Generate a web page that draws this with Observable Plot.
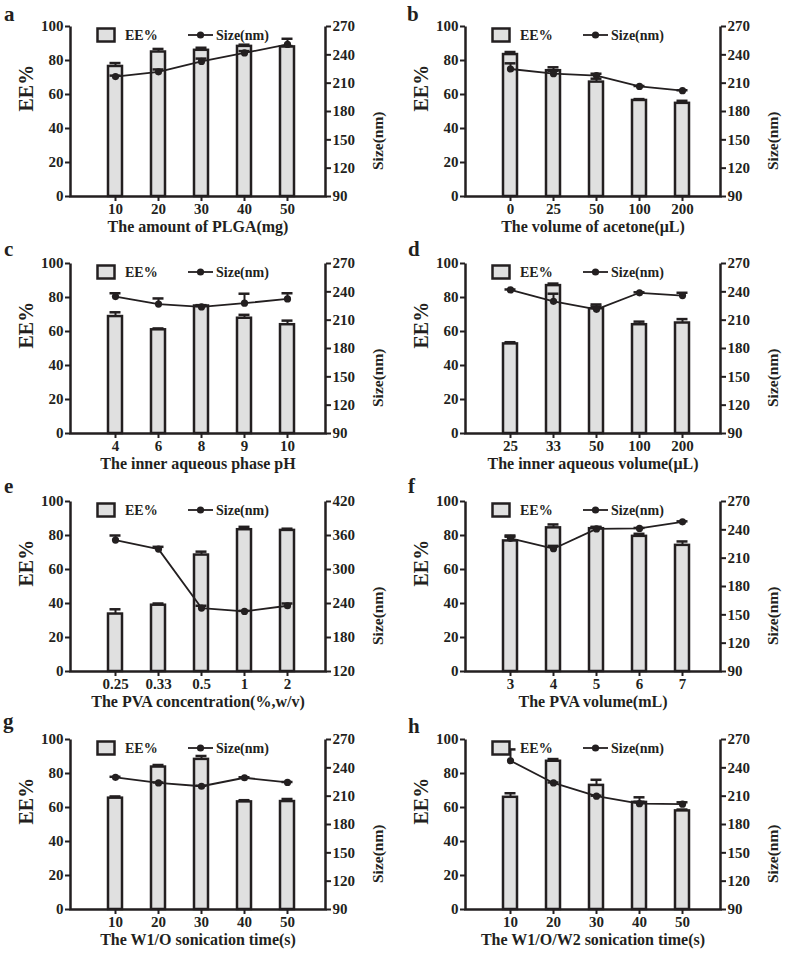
<!DOCTYPE html>
<html><head><meta charset="utf-8">
<script src="https://cdn.jsdelivr.net/npm/d3@7"></script>
<script src="https://cdn.jsdelivr.net/npm/@observablehq/plot@0.6"></script>
<style>
body{margin:0;background:#fff;}
#fig{position:relative;width:789px;height:955px;overflow:hidden;font-family:"Liberation Serif","Times New Roman",serif;font-weight:bold;color:#231f20;}
.panel{position:absolute;}
.letter{position:absolute;font-size:21px;line-height:24px;font-weight:bold;}
.legend{position:absolute;overflow:visible;}
</style></head><body><div id="fig"></div>
<script>
// ---- tick labels ----
const eeTicks = [0, 20, 40, 60, 80, 100];
const sizeTicks = [90, 120, 150, 180, 210, 240, 270];
const sizeTicksE = [120, 180, 240, 300, 360, 420];

// ---- panel a ----
const catsA = ["10", "20", "30", "40", "50"];
const eeA = [76.5, 85, 86, 88.3, 88];
const eeErrA = [2, 1.8, 1.5, 1, 0.5];
const sizeA = [217, 222, 233, 242, 251];
const sizeErrA = [1, 2.5, 3, 2, 6];
// ---- panel b ----
const catsB = ["0", "25", "50", "100", "200"];
const eeB = [83.5, 74, 67.3, 56.5, 54.8];
const eeErrB = [1.5, 2, 2, 0.8, 1.5];
const sizeB = [225, 220, 218, 206.5, 202];
const sizeErrB = [6, 3, 2, 0.5, 0.5];
// ---- panel c ----
const catsC = ["4", "6", "8", "9", "10"];
const eeC = [68.8, 61, 75, 67.8, 64];
const eeErrC = [2.5, 0.8, 0.5, 2, 2.4];
const sizeC = [235, 227, 224, 228, 232.5];
const sizeErrC = [3.5, 6, 1, 10, 6];
// ---- panel d ----
const catsD = ["25", "33", "50", "100", "200"];
const eeD = [52.7, 87, 73.4, 64, 65];
const eeErrD = [1, 1.2, 2.5, 1.8, 2.3];
const sizeD = [242, 230, 221.5, 239, 236];
const sizeErrD = [0.5, 8, 3, 0.5, 3];
// ---- panel e ----
const catsE = ["0.25", "0.33", "0.5", "1", "2"];
const eeE = [33.8, 39, 68.5, 83.4, 83];
const eeErrE = [2.8, 1, 2, 1.7, 1];
const sizeE = [352, 336, 232, 226, 236];
const sizeErrE = [8, 4, 4, 1, 4];
// ---- panel f ----
const catsF = ["3", "4", "5", "6", "7"];
const eeF = [76.8, 84.5, 84, 79.5, 74.2];
const eeErrF = [2.5, 2, 1, 1.5, 2.3];
const sizeF = [231, 220, 241, 241.5, 248.5];
const sizeErrF = [3, 3, 2, 0.5, 0.5];
// ---- panel g ----
const catsG = ["10", "20", "30", "40", "50"];
const eeG = [65.5, 83.8, 88.3, 63.3, 63.5];
const eeErrG = [1, 1.2, 2, 1, 1.5];
const sizeG = [230, 224, 220.5, 229.5, 224.5];
const sizeErrG = [0.5, 0.5, 0.5, 0.5, 0.5];
// ---- panel h ----
const catsH = ["10", "20", "30", "40", "50"];
const eeH = [66, 87.2, 73, 63, 58];
const eeErrH = [2.4, 1.3, 3.3, 3, 0.8];
const sizeH = [247.5, 224, 210, 202, 201.5];
const sizeErrH = [12, 0.5, 0.5, 2, 2];

const letters = ["a", "b", "c", "d", "e", "f", "g", "h"];
const xTitles = [
  "The amount of PLGA(mg)", "The volume of acetone(\u03bcL)",
  "The inner aqueous phase pH", "The inner aqueous volume(\u03bcL)",
  "The PVA concentration(%,w/v)", "The PVA volume(mL)",
  "The W1/O sonication time(s)", "The W1/O/W2 sonication time(s)"
];

const panels = [
  [catsA, eeA, eeErrA, sizeA, sizeErrA, sizeTicks],
  [catsB, eeB, eeErrB, sizeB, sizeErrB, sizeTicks],
  [catsC, eeC, eeErrC, sizeC, sizeErrC, sizeTicks],
  [catsD, eeD, eeErrD, sizeD, sizeErrD, sizeTicks],
  [catsE, eeE, eeErrE, sizeE, sizeErrE, sizeTicksE],
  [catsF, eeF, eeErrF, sizeF, sizeErrF, sizeTicks],
  [catsG, eeG, eeErrG, sizeG, sizeErrG, sizeTicks],
  [catsH, eeH, eeErrH, sizeH, sizeErrH, sizeTicks]
];

// layout
const ink = "#231f20";
const barFill = "#e0e0e0";
const W = 394, ML = 70, MR = 69, MT = 10, MB = 45, FH = 170;
const FW = W - ML - MR;
const H = MT + FH + MB;
const colLeft = [0, 395];
const frameTops = [26, 263, 501, 739];
const letterPos = [[4, 2], [407, 2], [4, 237], [408, 237], [4, 474], [408, 474], [3, 709], [408, 714]];

const fig = document.getElementById("fig");

panels.forEach(([cats, ee, eeErr, size, sizeErr, sTicks], i) => {
  const col = i % 2, row = Math.floor(i / 2);
  const smin = sTicks[0], smax = sTicks[sTicks.length - 1];
  const toEE = s => (s - smin) / (smax - smin) * 100;
  const data = cats.map((c, j) => ({
    cat: c, ee: ee[j], eeTop: ee[j] + eeErr[j],
    s: toEE(size[j]), sTop: toEE(size[j] + sizeErr[j])
  }));
  const chart = Plot.plot({
    width: W, height: H,
    marginLeft: ML, marginRight: MR, marginTop: MT, marginBottom: MB,
    style: {fontFamily: '"Liberation Serif","Times New Roman",serif', fontSize: "15px", fontWeight: "bold", color: ink, background: "transparent"},
    x: {type: "band", domain: cats, paddingInner: 0.674, paddingOuter: 0.3, insetLeft: 25, insetRight: 18, axis: null},
    y: {domain: [0, 100], axis: null},
    marks: [
      Plot.barY(data, {x: "cat", y: "ee", fill: barFill, stroke: ink, strokeWidth: 2.5}),
      Plot.ruleX(data, {x: "cat", y1: "ee", y2: "eeTop", stroke: ink, strokeWidth: 2}),
      Plot.tickY(data, {x: "cat", y: "eeTop", stroke: ink, strokeWidth: 2.5, inset: 1.5}),
      Plot.line(data, {x: "cat", y: "s", stroke: ink, strokeWidth: 1.8}),
      Plot.ruleX(data, {x: "cat", y1: "s", y2: "sTop", stroke: ink, strokeWidth: 2}),
      Plot.tickY(data, {x: "cat", y: "sTop", stroke: ink, strokeWidth: 2.5, inset: 1.5}),
      Plot.dot(data, {x: "cat", y: "s", r: 3.6, fill: ink, stroke: "none"}),
      Plot.frame({stroke: ink, strokeWidth: 2.5, strokeDasharray: `0,${FW},${FW + 2 * FH}`}),
      Plot.axisX({tickSize: 5, tickPadding: 2, strokeWidth: 2, fontSize: 15, label: null}),
      Plot.axisY(eeTicks, {anchor: "left", tickSize: 5, tickPadding: 2, strokeWidth: 2, fontSize: 15, label: null}),
      Plot.axisY(sTicks.map(toEE), {anchor: "right", tickSize: 5, tickPadding: 2, strokeWidth: 2, fontSize: 15, label: null,
        tickFormat: d => Math.round(smin + d * (smax - smin) / 100)}),
      Plot.text(["EE%"], {frameAnchor: "left", dx: -44, rotate: -90, fontSize: 20, fontWeight: "bold", fill: ink}),
      Plot.text(["Size(nm)"], {frameAnchor: "right", dx: 53, rotate: -90, fontSize: 15.5, fontWeight: "bold", fill: ink}),
      Plot.text([xTitles[i]], {frameAnchor: "bottom", dy: 35, fontSize: 16, fontWeight: "bold", fill: ink})
    ]
  });
  const div = document.createElement("div");
  div.className = "panel";
  div.style.left = colLeft[col] + "px";
  div.style.top = (frameTops[row] - MT) + "px";
  div.appendChild(chart);
  fig.appendChild(div);

  // legend (inside the plot area, top-left)
  const fx = colLeft[col] + ML, fy = frameTops[row];
  const lg = d3.select(fig).append("svg").attr("class", "legend")
    .attr("width", 210).attr("height", 20)
    .style("left", (fx + 26) + "px").style("top", (fy + 1) + "px");
  lg.append("rect").attr("x", 1.5).attr("y", 1.5).attr("width", 17).attr("height", 13)
    .attr("fill", barFill).attr("stroke", ink).attr("stroke-width", 2.5);
  lg.append("text").attr("x", 29).attr("y", 13).text("EE%")
    .attr("font-size", 14).attr("font-weight", "bold").attr("fill", ink)
    .attr("font-family", '"Liberation Serif","Times New Roman",serif');
  lg.append("line").attr("x1", 92).attr("x2", 117).attr("y1", 8).attr("y2", 8)
    .attr("stroke", ink).attr("stroke-width", 1.8);
  lg.append("circle").attr("cx", 104.5).attr("cy", 8).attr("r", 3.6).attr("fill", ink);
  lg.append("text").attr("x", 120).attr("y", 13).text("Size(nm)")
    .attr("font-size", 14).attr("font-weight", "bold").attr("fill", ink)
    .attr("font-family", '"Liberation Serif","Times New Roman",serif');

  const lt = document.createElement("div");
  lt.className = "letter";
  lt.textContent = letters[i];
  lt.style.left = letterPos[i][0] + "px";
  lt.style.top = letterPos[i][1] + "px";
  fig.appendChild(lt);
});
</script></body></html>
